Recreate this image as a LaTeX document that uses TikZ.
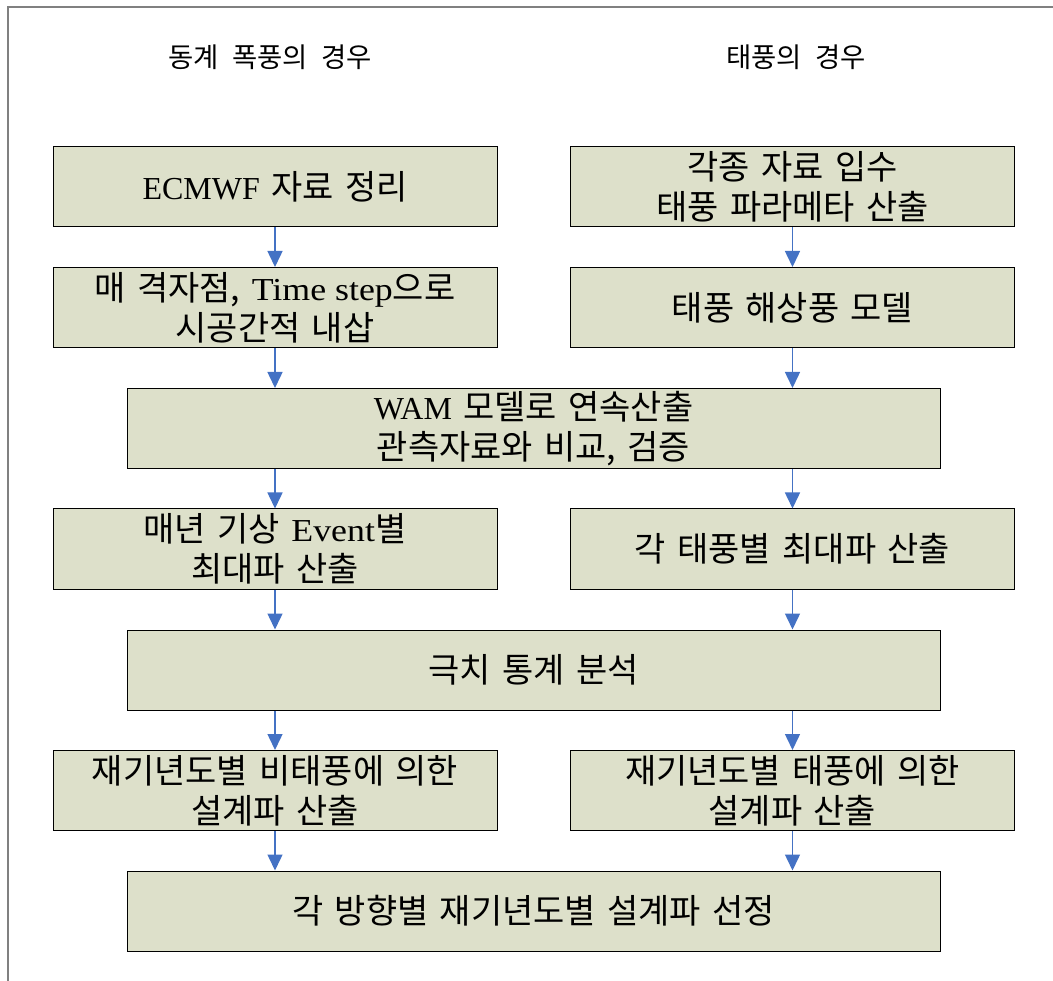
\documentclass[tikz,border=0pt]{standalone}
\usepackage{fontspec}
\setmainfont{Liberation Serif}
\newfontfamily\wl[FakeStretch=1.12]{Liberation Serif}
\newfontfamily\kr[Scale=1.06,WordSpace=1.5]{Noto Sans CJK KR}
\newfontfamily\krh[Scale=1.12,WordSpace=2.2]{Noto Sans CJK KR}
\newcommand{\K}[1]{{\kr #1}}
\newcommand{\W}[1]{{\wl #1}}
\usetikzlibrary{arrows.meta}
\definecolor{boxfill}{RGB}{221,224,202}
\definecolor{arrblue}{RGB}{68,114,196}
\definecolor{framegray}{RGB}{128,128,128}
\begin{document}
\begin{tikzpicture}[x=1pt,y=-1pt,
  box/.style={draw=black,line width=1pt,fill=boxfill,minimum height=80pt,align=center,
    font=\fontsize{32}{40}\selectfont,inner sep=0pt},
  narrow/.style={box,minimum width=444pt},
  wide/.style={box,minimum width=813pt},
  arr/.style={draw=arrblue,line width=1.5pt,-{Triangle[width=15pt,length=16pt]}},
  head/.style={font=\krh\fontsize{24.5}{28}\selectfont}]
\useasboundingbox (0,0) rectangle (1053,981);
\draw[framegray,line width=2pt] (8,981) -- (8,7) -- (1053,7);
\node[head] (h1) at (270,57) {동계 폭풍의 경우};
\node[head] (h2) at (796,57) {태풍의 경우};
\node[narrow] (a1) at (275,187) {ECMWF\K{ 자료 정리}};
\node[narrow] (b1) at (792.5,187) {\K{각종 자료 입수}\\\K{태풍 파라메타 산출}};
\node[narrow] (a2) at (275,307.5) {\K{매 격자점, }\W{Time step}\K{으로}\\\K{시공간적 내삽}};
\node[narrow] (b2) at (792.5,307.5) {\K{태풍 해상풍 모델}};
\node[wide] (c) at (533.5,428.5) {WAM\K{ 모델로 연속산출}\\\K{관측자료와 비교, 검증}};
\node[narrow] (a3) at (275,549) {\K{매년 기상 }\W{Event}\K{별}\\\K{최대파 산출}};
\node[narrow] (b3) at (792.5,549) {\K{각 태풍별 최대파 산출}};
\node[wide] (d) at (533.5,670) {\K{극치 통계 분석}};
\node[narrow] (a4) at (275,790.5) {\K{재기년도별 비태풍에 의한}\\\K{설계파 산출}};
\node[narrow] (b4) at (792.5,790.5) {\K{재기년도별 태풍에 의한}\\\K{설계파 산출}};
\node[wide] (e) at (533.5,911) {\K{각 방향별 재기년도별 설계파 선정}};
\draw[arr] (a1.south) -- (a2.north);
\draw[arr] (b1.south) -- (b2.north);
\draw[arr] (a2.south) -- (a2.south |- c.north);
\draw[arr] (b2.south) -- (b2.south |- c.north);
\draw[arr] (a3.north |- c.south) -- (a3.north);
\draw[arr] (b3.north |- c.south) -- (b3.north);
\draw[arr] (a3.south) -- (a3.south |- d.north);
\draw[arr] (b3.south) -- (b3.south |- d.north);
\draw[arr] (a4.north |- d.south) -- (a4.north);
\draw[arr] (b4.north |- d.south) -- (b4.north);
\draw[arr] (a4.south) -- (a4.south |- e.north);
\draw[arr] (b4.south) -- (b4.south |- e.north);
\end{tikzpicture}
\end{document}
